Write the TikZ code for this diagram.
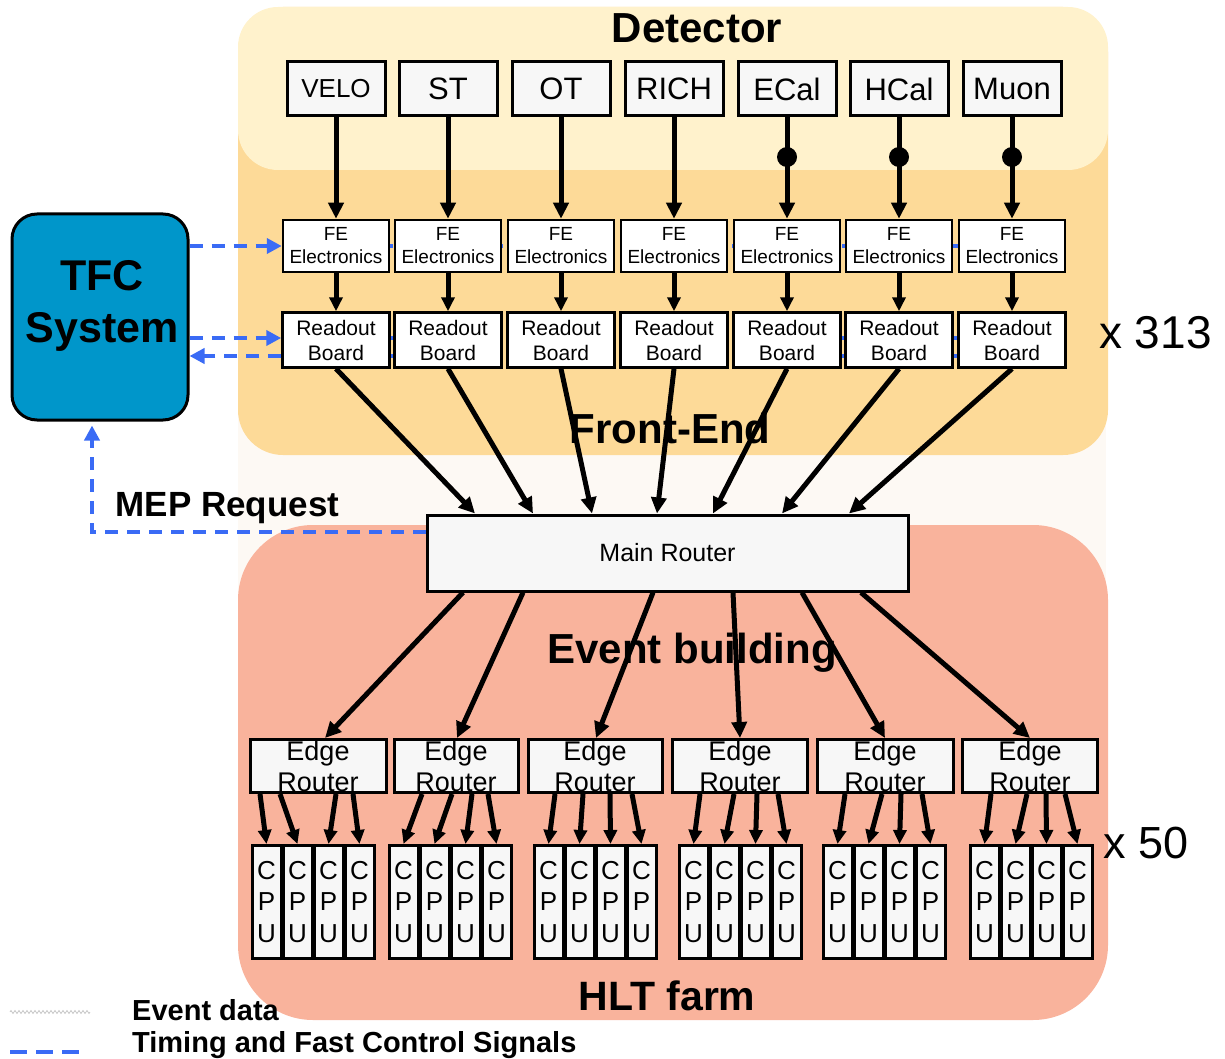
\documentclass[tikz,border=0pt]{standalone}
\usepackage{fontspec}
\setmainfont{Liberation Sans}
\usetikzlibrary{arrows.meta,calc,decorations.pathmorphing}
\definecolor{detY}{HTML}{FFF2CC}
\definecolor{feO}{HTML}{FDDA98}
\definecolor{evS}{HTML}{F9B39C}
\definecolor{hatchC}{HTML}{FDF9F4}
\definecolor{tfcB}{HTML}{0096CA}
\definecolor{boxF}{HTML}{F7F7F7}
\definecolor{sigB}{HTML}{3A6BF5}
\pgfdeclarelayer{bg}\pgfdeclarelayer{mid}\pgfsetlayers{bg,mid,main}
\tikzset{
  fnt/.style 2 args={font=\fontsize{#1}{#2}\selectfont},
  fntb/.style 2 args={font=\fontsize{#1}{#2}\selectfont\bfseries},
  detbox/.style={draw, line width=3pt, fill=boxF, minimum width=98pt, minimum height=54pt, inner sep=0pt},
  febox/.style={draw, line width=2.5pt, fill=white, minimum width=106pt, minimum height=52pt, inner sep=0pt, align=center, fnt={19}{23}},
  rbbox/.style={draw, line width=2.5pt, fill=white, minimum width=107pt, minimum height=55pt, inner sep=0pt, align=center, fnt={21}{25}},
  erbox/.style={draw, line width=3pt, fill=boxF, minimum height=53pt, inner sep=0pt, align=center, fnt={27}{31}},
  cpubox/.style={draw, line width=3pt, fill=boxF, minimum width=29pt, minimum height=113pt, inner sep=0pt, align=center, fnt={26}{31.5}},
  flow/.style={line width=5pt, -{Triangle[length=16pt,width=15pt]}},
  flowsm/.style={line width=5pt, -{Triangle[length=14pt,width=13pt]}},
  sig/.style={sigB, line width=4pt, dash pattern=on 13pt off 9pt},
  sigarrow/.style={sig, -{Triangle[length=15pt,width=15pt]}},
}
\begin{document}
\begin{tikzpicture}[x=1pt,y=-1pt]
\useasboundingbox (0,0) rectangle (1225,1059);

% regions
\begin{pgfonlayer}{bg}
\fill[hatchC] (238,300) rectangle (1106,600);
\fill[feO, rounded corners=45pt] (238,7) rectangle (1108,455);
\fill[detY, rounded corners=40pt] (238,7) rectangle (1108,170);
\fill[evS, rounded corners=75pt] (238,525) rectangle (1108,1020);
\end{pgfonlayer}

\node[fntb={42}{42}, anchor=base] (tdet) at (697,43) {Detector};
\node[fntb={42}{42}, anchor=base] (tfe) at (670,443) {Front-End};
\node[fntb={42}{42}, anchor=base] (tev) at (692,663) {Event building};
\node[fntb={41}{41}, anchor=base] (thlt) at (667,1010) {HLT farm};

% detector chain
\foreach \n/\x/\t/\s in {1/336/VELO/26, 2/448/ST/31, 3/561/OT/31, 4/674/RICH/31, 5/787/ECal/31, 6/899/HCal/31, 7/1012/Muon/31} {
  \node[detbox, fnt={\s}{\s}] (d\n) at (\x,89) {\t};
  \node[febox] (fe\n) at (\x,246) {FE\\Electronics};
  \node[rbbox] (rb\n) at (\x,340) {Readout\\Board};
  \draw[flow] (d\n) -- (fe\n);
  \draw[flowsm] (fe\n) -- (rb\n);
  \ifnum\n>4
    \fill (d\n.south |- 0,157) circle (10pt);
  \fi
}

% TFC system
\node[draw, line width=3pt, fill=tfcB, rounded corners=25pt, minimum width=176pt, minimum height=206pt] (tfc) at (100,317) {};
\node[fntb={43}{52}, align=center] (tfct) at (102,306) {TFC\\System};

\coordinate (rbA) at ($(rb1.west)+(0,-2)$);
\coordinate (rbB) at ($(rb1.west)+(0,16)$);
\begin{pgfonlayer}{mid}
\draw[sig] (fe1.center) -- (fe7.center);
\draw[sig] (rbA -| rb1.center) -- (rbA -| rb7.center);
\draw[sig] (rbB -| rb1.center) -- (rbB -| rb7.center);
\end{pgfonlayer}
\draw[sigarrow] (tfc.east |- fe1) -- (fe1.west);
\draw[sigarrow] (tfc.east |- rbA) -- (rbA);
\draw[sigarrow] (rbB) -- (tfc.east |- rbB);

% main router
\node[draw, line width=3pt, fill=boxF, minimum width=481pt, minimum height=76pt, fnt={25}{25}] (mr) at (667.5,553) {Main Router};
\foreach \n/\ex in {1/475, 2/533, 3/592, 4/657, 5/713, 6/782, 7/849} {
  \draw[flow] (rb\n.south) -- (\ex,0 |- mr.north);
}

% MEP request
\coordinate (mepc) at (92,532);
\draw[sigarrow, shorten >=4pt] (mr.west |- mepc) -- (mepc) -- (tfc.south -| mepc);
\node[fntb={35}{35}, anchor=base west] (mep) at (112,516) {MEP Request};

% edge routers and CPUs
\foreach \n/\cx/\w/\sx/\ex in {1/318/136/463/325, 2/456/124/523/457, 3/595/134/653/596, 4/740/135/733/740, 5/885/136/802/885, 6/1030/135/861/1030} {
  \node[erbox, minimum width=\w pt] (er\n) at (\cx,766) {Edge\\Router};
  \draw[flow] (\sx,0 |- mr.south) -- (\ex,0 |- er\n.north);
}
\foreach \g/\gx/\sa/\sb/\sc/\sd in {1/252/260/280/336/353, 2/389/422/452/472/488, 3/534/555/583/610/632, 4/679/700/734/757/778, 5/823/845/882/901/922, 6/970/991/1027/1046/1065} {
  \foreach \k/\s in {0/\sa, 1/\sb, 2/\sc, 3/\sd} {
    \node[cpubox] (c\g\k) at (\gx+14.5+31*\k, 902) {C\\P\\U};
    \draw[flowsm] (\s,0 |- er\g.south) -- (c\g\k.north);
  }
}

% multiplicities
\node[fnt={46}{46}, anchor=base west, inner sep=0pt] (x313) at (1099,348) {x 313};
\node[fnt={45}{45}, anchor=base west, inner sep=0pt] (x50) at (1103,858) {x 50};

% legend
\coordinate (z1) at (10,1012);
\coordinate (z2) at (90,1012);
\draw[gray!45, line width=0.8pt, decorate, decoration={zigzag, amplitude=1.5pt, segment length=4pt}] (z1) -- (z2);
\coordinate (b1) at (10,1052);
\coordinate (b2) at (82,1052);
\draw[sigB, line width=4pt, dash pattern=on 17pt off 9pt] (b1) -- (b2);
\node[fntb={29}{29}, anchor=base west, inner sep=0pt] (lg1) at (132,1020) {Event data};
\node[fntb={29}{29}, anchor=base west, inner sep=0pt] (lg2) at (132,1052) {Timing and Fast Control Signals};
\end{tikzpicture}
\end{document}
